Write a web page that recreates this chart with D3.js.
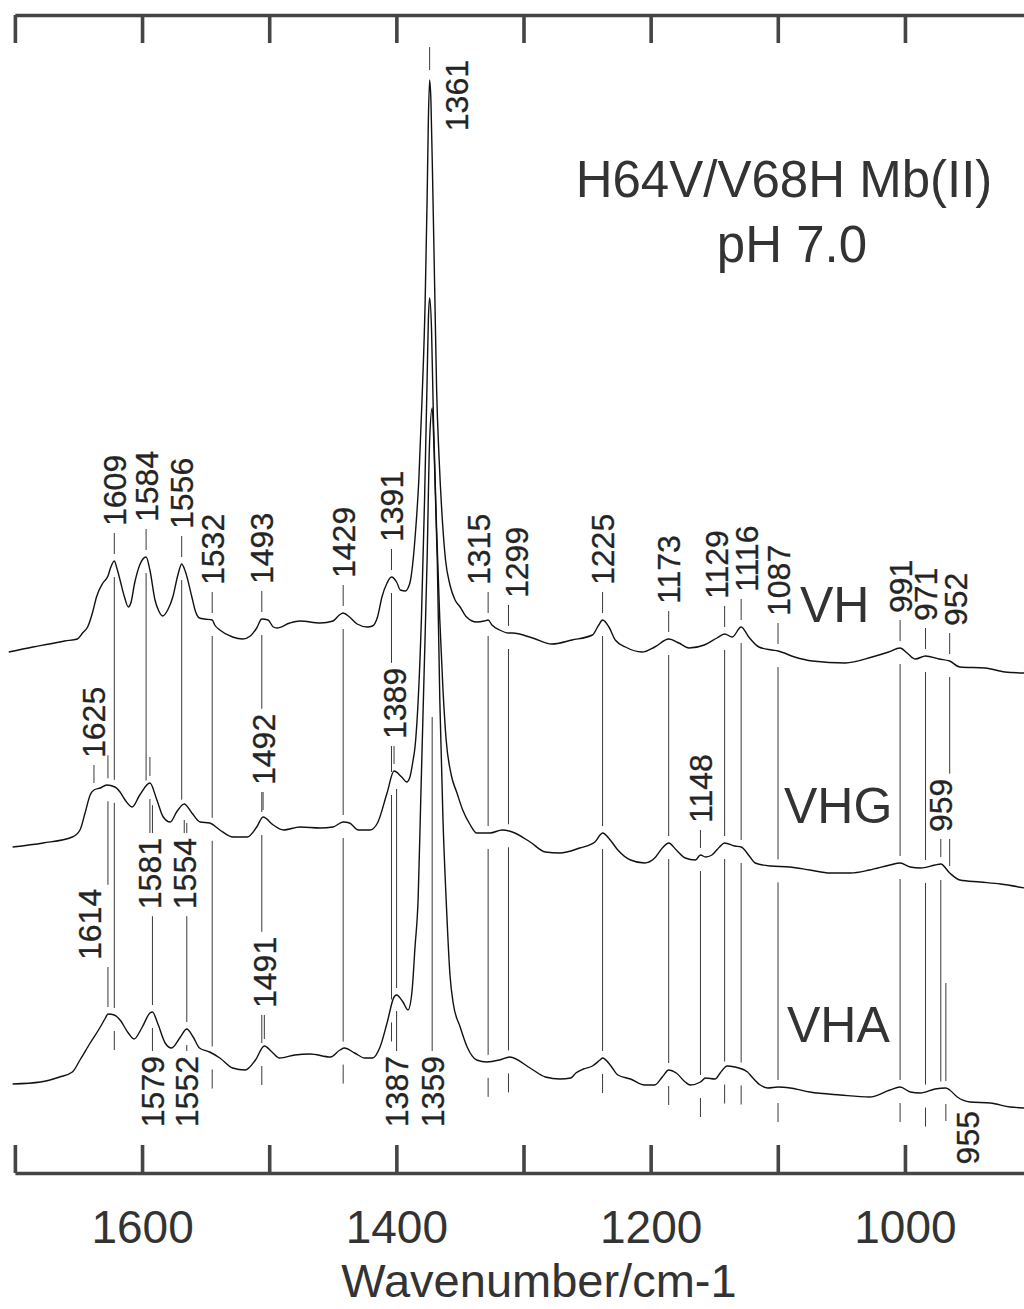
<!DOCTYPE html>
<html>
<head>
<meta charset="utf-8">
<script src="https://cdnjs.cloudflare.com/ajax/libs/d3/7.8.5/d3.min.js"></script>
<style>
  html, body { margin: 0; padding: 0; background: #fff; }
  svg { display: block; }
  text { font-family: "Liberation Sans", Arial, Helvetica, sans-serif; }
</style>
</head>
<body>
<svg id="chart" width="1024" height="1309"></svg>
<script>
// Resonance Raman spectra of H64V/V68H Mb(II), pH 7.0 (wavenumber in cm-1, intensity in arbitrary units)
const seriesNames = ["VH", "VHG", "VHA"];
const seriesOffsets = [500, 280, 60];

const spectrumVH = [
  [1692,21],[1673,26],[1660,29],[1648,32],[1638,34],[1634,40],[1630,46],[1626,61],[1623,76],[1618,90],
  [1614,97],[1612,105],[1609,112],[1607,105],[1604.5,93],[1601,76],[1598,66],[1596,70],[1593,90],[1589,108],
  [1584,116],[1581,103],[1577,73],[1574,62],[1571,57],[1567,63],[1563,76],[1559,98],[1556,109],[1553,101],
  [1548,76],[1545,61],[1542,55],[1538,54],[1532,53],[1530,48],[1526,43],[1516,36],[1508,34],[1502,37],
  [1497,45],[1493,54],[1488,53],[1484,46],[1481,45],[1471,50],[1463,52],[1447,50],[1437,52],[1432,58],
  [1429,60],[1424,56],[1418,49],[1410,46],[1406,47],[1402,56],[1398.5,76],[1394.5,90],[1391,96],[1387,91],
  [1384,83],[1380,82],[1378,85],[1376,93],[1374,113],[1372,143],[1369.5,193],[1367,273],[1364.5,373],[1363,473],
  [1362,553],[1361,593],[1360,573],[1358.5,483],[1357,383],[1355.5,283],[1353.5,213],[1351,153],[1348.5,113],[1345,88],
  [1341,73],[1337,66],[1332,56],[1324,51],[1318,52],[1315,53],[1312,48],[1306,43],[1299,40],[1296,40],
  [1280,35],[1265,29],[1249,33],[1233,38],[1228,48],[1225,53],[1220,46],[1215,33],[1207,26],[1194,21],
  [1184,26],[1173,34],[1165,30],[1157,25],[1145,28],[1135,35],[1129,39],[1123,36],[1116,46],[1110,36],
  [1102,26],[1092,23],[1087,22],[1074,16],[1060,12],[1034,10],[1013,16],[1000,21],[991,25],[985.5,20],
  [979,14],[971,17],[960.5,14],[952,12],[944,6],[924,5],[908.5,1],[893,0]
];

const spectrumVHG = [
  [1689,46],[1665,50],[1642,56],[1636,63],[1632,80],[1628,98],[1625,103],[1620,105],[1615,108],[1608.5,106],
  [1604.5,101],[1600.5,93],[1595,86],[1589,98],[1581,110],[1575.5,93],[1570.5,76],[1565,71],[1560,81],[1554,89],
  [1548,80],[1541.5,71],[1534,70],[1526,63],[1515.5,56],[1504.5,56],[1497,66],[1492,76],[1484,68],[1476,63],
  [1463,66],[1447,65],[1437,66],[1429,71],[1424,70],[1417,63],[1408,63],[1402,70],[1394.5,100],[1389,122],
  [1383,116],[1379,111],[1376.5,116],[1374,133],[1372.5,146],[1370,193],[1367.5,273],[1365,393],[1363,513],[1362,573],
  [1361,595],[1359.5,563],[1358,473],[1355.5,363],[1353,273],[1350.5,203],[1348,153],[1344,118],[1339.5,100],[1335,83],
  [1329,68],[1324,60],[1313.5,60],[1304,63],[1296,61],[1282,51],[1270,41],[1258.5,40],[1243,45],[1231,51],
  [1227,58],[1225,60],[1219,53],[1213,43],[1203,33],[1192,30],[1184,35],[1178,45],[1173,50],[1167,43],
  [1160,35],[1152,33],[1148,38],[1144,36],[1139,38],[1133,46],[1129,50],[1121,47],[1116,46],[1109,36],
  [1105,30],[1093,27],[1078,26],[1062,23],[1046,20],[1030,20],[1015,23],[999,28],[991,30],[983,26],
  [975,25],[963.5,28],[959,29],[952,20],[944,13],[928,11],[912,9],[893,5]
];

const spectrumVHA = [
  [1689,29],[1667,31],[1652,36],[1642,41],[1636,53],[1628,70],[1620,86],[1616,95],[1614,99],[1609,98],
  [1604.5,93],[1598,80],[1593.5,74],[1587,86],[1581,100],[1579,101],[1575,90],[1569,70],[1564,65],[1557,76],
  [1552,84],[1547,76],[1542,65],[1534,61],[1526,55],[1516,45],[1506,43],[1498,53],[1491,67],[1485,61],
  [1479,55],[1467,58],[1455,59],[1439,56],[1431.5,63],[1428,65],[1420,60],[1412,55],[1406,55],[1400,66],
  [1394.5,90],[1389,116],[1387,118],[1382,111],[1378,103],[1375,120],[1372.5,166],[1370,216],[1368,313],[1365.5,433],
  [1363,553],[1361,673],[1359,705],[1357.5,663],[1355,553],[1353,413],[1350.5,293],[1348,213],[1345,138],[1342.5,110],
  [1337,86],[1331.5,66],[1324,53],[1316,51],[1306,53],[1298,56],[1282,45],[1270,36],[1258.5,34],[1250,35],
  [1246,40],[1240,44],[1233,47],[1227,53],[1225,55],[1219,48],[1213,38],[1203,34],[1192,28],[1184,28],[1178,36],
  [1173,43],[1167,40],[1160,31],[1156,28],[1148,31],[1144,35],[1136.5,34],[1132.5,40],[1127,47],[1121,46],
  [1111,41],[1107.5,36],[1101,28],[1095,25],[1087,26],[1077.5,25],[1062,21],[1038,18],[1015,16],[999,23],
  [991,26],[983,21],[975,20],[963.5,24],[955,25],[952,23],[946,16],[936,11],[920,10],[904.5,6],[893,5]
];

const spectra = [spectrumVH, spectrumVHG, spectrumVHA];

// Band assignments: [wavenumber, series index, label side, series the guide reaches, crosses it]
const peakMarks = [
  [1609,0,"top",2,true],[1584,0,"top",1,false],[1556,0,"top",1,false],[1532,0,"top",2,true],
  [1493,0,"top",2,true],[1429,0,"top",2,true],[1391,0,"top",2,true],[1361,0,"beside",0,false],
  [1315,0,"top",2,true],[1299,0,"top",2,true],[1225,0,"top",2,true],[1173,0,"top",2,true],
  [1129,0,"top",2,true],[1116,0,"top",2,true],[1087,0,"top",2,true],[991,0,"top",2,true],
  [971,0,"top",2,true],[952,0,"top",1,false],
  [1625,1,"top",1,false],[1492,1,"top",1,false],[1389,1,"top",1,false],[1148,1,"top",2,true],
  [959,1,"top",2,false],[1581,1,"bottom",1,true],[1554,1,"bottom",1,false],
  [1614,2,"top",2,false],[1491,2,"top",2,false],[1579,2,"bottom",1,false],[1552,2,"bottom",1,false],
  [1387,2,"bottom",1,false],[1359,2,"bottom",2,false],[955,2,"bottom",2,false]
];

// Guide lines that end at a fixed intensity level instead of at a trace
const guideLevels = { 1359: 456, 955: 190 };
// Guides that also run upward from a top label through the trace above
const guideUpThrough = { 1614: 1 };

const frameTicks = d3.range(1700, 899, -100);

// ---- layout ----
const W = 1024, H = 1309;
const svg = d3.select("#chart");

const y = d3.scaleLinear().domain([0, 1158]).range([1173, 15]);
// calibrated wavenumber scale for the spectra and band marks
const x = d3.scaleLinear().domain([1700, 900]).range([-1.4, 1015.8]);
// the printed frame ticks sit about 13 cm-1 off the calibrated band positions
const xFrame = d3.scaleLinear().domain([1700, 900]).range([14.9, 1032.1]);

const labelLift = [35, 32, 38];          // gap between a trace and a label above it (px)
const belowRow = [null, 838, 1056];      // top of labels hung below a trace (px)
// labels shifted sideways (and down) so that crowded neighbours stay legible
const labelNudge = {
  1614: {dx: -18, dy: -16}, 955: {dx: 22, dy: 55},
  1315: {dx: -10, dy: 0}, 1299: {dx: 8, dy: 0},
  1129: {dx: -8, dy: 0}, 1116: {dx: 5, dy: 0}, 952: {dx: 6, dy: 0}
};
const markFont = 32;

svg.append("defs").append("clipPath").attr("id", "plotclip")
  .append("rect").attr("x", 0).attr("y", 0).attr("width", W).attr("height", H);

// ---- trace lookup ----
const ascending = spectra.map(s => s.slice().sort((a, b) => a[0] - b[0]));
function level(si, wn) {
  const arr = ascending[si];
  const i = d3.bisector(d => d[0]).left(arr, wn);
  if (i <= 0) return arr[0][1];
  if (i >= arr.length) return arr[arr.length - 1][1];
  const a = arr[i - 1], b = arr[i];
  const t = (wn - a[0]) / (b[0] - a[0]);
  return a[1] + t * (b[1] - a[1]);
}
function traceY(si, wn) { return y(seriesOffsets[si] + level(si, wn)); }

// ---- frame ----
const frameColor = "#454545";
const gBottom = svg.append("g")
  .attr("transform", `translate(0,${y.range()[0]})`)
  .call(d3.axisBottom(xFrame).tickValues(frameTicks).tickSize(-28).tickSizeOuter(0)
    .tickPadding(37).tickFormat(d => d % 200 === 0 ? d : ""));
const gTop = svg.append("g")
  .attr("transform", `translate(0,${y.range()[1]})`)
  .call(d3.axisTop(xFrame).tickValues(frameTicks).tickSize(-28).tickSizeOuter(0).tickFormat(""));
[gBottom, gTop].forEach(g => {
  g.select(".domain").attr("stroke", frameColor).attr("stroke-width", 3.6);
  g.selectAll(".tick line").attr("stroke", frameColor).attr("stroke-width", 3.6);
  g.selectAll(".tick text").attr("fill", "#333").attr("font-size", 46)
    .attr("font-family", '"Liberation Sans", Arial, sans-serif');
});

svg.append("text").attr("x", 539).attr("y", 1297).attr("text-anchor", "middle")
  .attr("font-size", 47).attr("fill", "#333").text("Wavenumber/cm-1");

svg.append("text").attr("x", 784).attr("y", 197).attr("text-anchor", "middle")
  .attr("font-size", 51).attr("fill", "#333").text("H64V/V68H Mb(II)");
svg.append("text").attr("x", 792).attr("y", 262).attr("text-anchor", "middle")
  .attr("font-size", 51).attr("fill", "#333").text("pH 7.0");

// ---- band marks ----
const marks = peakMarks.map(([wn, s, side, reach, through]) => {
  const m = {wn, s, side, reach, through, x: x(wn)};
  const nud = labelNudge[wn] || {dx: 0, dy: 0};
  m.nudged = Math.abs(nud.dx) > 12;
  m.lx = m.x + nud.dx;
  const ty = traceY(s, wn);
  if (side === "top") { m.ay = ty - labelLift[s] + nud.dy; m.anchor = "start"; }
  else if (side === "bottom") { m.ay = belowRow[s] + nud.dy; m.anchor = "end"; }
  else { m.lx = m.x + 27; m.ay = ty - 20; m.anchor = "end"; }
  return m;
});

const gMarks = svg.append("g").attr("clip-path", "url(#plotclip)");
const gLabels = svg.append("g");

marks.forEach(m => {
  const t = gLabels.append("text")
    .attr("transform", `translate(${m.lx},${m.ay}) rotate(-90)`)
    .attr("dy", "0.36em").attr("text-anchor", m.anchor)
    .attr("font-size", markFont).attr("fill", "#242424")
    .attr("stroke", "#242424").attr("stroke-width", 0.3)
    .text(String(m.wn));
  const len = t.node().getComputedTextLength();
  if (m.anchor === "start") { m.top = m.ay - len; m.bottom = m.ay; }
  else { m.top = m.ay; m.bottom = m.ay + len; }
});

function subtract(span, cuts) {
  let segs = [span];
  cuts.forEach(([c0, c1]) => {
    const next = [];
    segs.forEach(([a, b]) => {
      if (c1 <= a || c0 >= b) { next.push([a, b]); return; }
      if (c0 > a) next.push([a, c0]);
      if (c1 < b) next.push([c1, b]);
    });
    segs = next;
  });
  return segs.filter(([a, b]) => b - a > 1.5);
}

function cutsFor(m) {
  const cuts = [];
  spectra.forEach((_, k) => {
    const ty = traceY(k, m.wn);
    cuts.push([ty - 7, ty + 16]);
  });
  marks.forEach(o => {
    if (o === m || o.side === "beside") return;
    if (Math.abs(o.lx - m.x) < 12) cuts.push([o.top - 5, o.bottom + 7]);
  });
  return cuts;
}

function drawGuide(m, y0, y1, cuts) {
  subtract([Math.min(y0, y1), Math.max(y0, y1)], cuts).forEach(([a, b]) => {
    gMarks.append("line").attr("x1", m.x).attr("x2", m.x).attr("y1", a).attr("y2", b)
      .attr("stroke", "#3a3a3a").attr("stroke-width", 1);
  });
}

marks.forEach(m => {
  if (m.side === "beside") {
    const apex = traceY(m.s, m.wn);
    drawGuide(m, apex - 33, apex - 10, []);
    return;
  }
  const cuts = cutsFor(m);
  let y0, y1;
  if (m.side === "top") {
    y0 = m.bottom + 7;
    if (m.reach === m.s) y1 = traceY(m.s, m.wn) - 7;
    else y1 = m.through ? traceY(m.reach, m.wn) + 35 : traceY(m.reach, m.wn) - 7;
    if (guideUpThrough[m.wn] !== undefined) {
      drawGuide(m, traceY(guideUpThrough[m.wn], m.wn) - 30, m.top - 4, cuts);
    }
  } else {
    y1 = m.nudged ? m.top + 10 : m.top - 5;
    if (guideLevels[m.wn] !== undefined) y0 = y(guideLevels[m.wn]);
    else y0 = traceY(m.reach, m.wn) + (m.through ? -26 : 16);
  }
  drawGuide(m, y0, y1, cuts);
});

// ---- spectra ----
const line = d3.line()
  .x(d => x(d[0]))
  .curve(d3.curveMonotoneX);

svg.append("g").attr("clip-path", "url(#plotclip)")
  .selectAll("path").data(spectra).join("path")
  .attr("d", (s, i) => line.y(d => y(seriesOffsets[i] + d[1]))(s))
  .attr("fill", "none").attr("stroke", "#111").attr("stroke-width", 1.4)
  .attr("stroke-linejoin", "round");

// ---- series names ----
const seriesLabelPos = [[800, 622], [784, 823], [787, 1042]];
svg.append("g").selectAll("text").data(seriesNames).join("text")
  .attr("x", (d, i) => seriesLabelPos[i][0]).attr("y", (d, i) => seriesLabelPos[i][1])
  .attr("font-size", 50).attr("fill", "#333").text(d => d);
</script>
</body>
</html>
